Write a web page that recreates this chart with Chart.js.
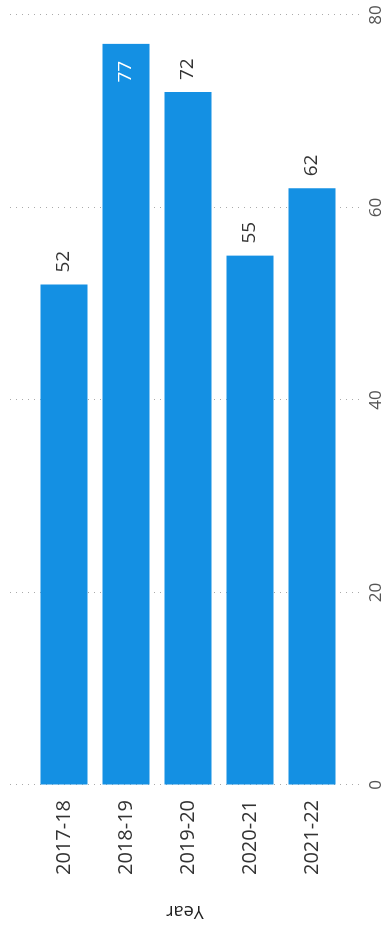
<!DOCTYPE html>
<html>
<head>
<meta charset="utf-8">
<script src="https://cdn.jsdelivr.net/npm/chart.js@4.4.1/dist/chart.umd.min.js"></script>
<style>
  html, body { margin: 0; padding: 0; background: #fff; overflow: hidden; }
  /* chart is laid out as a horizontal bar chart, then turned on its side */
  #wrap {
    position: absolute; left: 0; top: 0;
    width: 930px; height: 389px;
    transform-origin: 0 0;
    transform: translateY(930px) rotate(-90deg);
  }
</style>
</head>
<body>
<div id="wrap"><canvas id="yearChart" width="930" height="389"></canvas></div>
<script>
// dados
const years = ["2017-18", "2018-19", "2019-20", "2020-21", "2021-22"];
const counts = [52, 77, 72, 55, 62];
const valueTicks = [0, 20, 40, 60, 80];

const FONT = "'Open Sans', 'Noto Sans', sans-serif";
const BAR_COLOR = "#1490e3";

// tira o recuo que o Chart.js reserva para os rótulos das pontas
function semRecuo(s) {
    s.paddingTop = 0; s.paddingBottom = 0;
    s.paddingLeft = 0; s.paddingRight = 0;
}

// rótulos de valor na ponta da barra (dentro quando não cabe fora)
const rotulosValor = {
    id: "rotulosValor",
    afterDatasetsDraw(chart) {
        const ctx = chart.ctx, area = chart.chartArea;
        const meta = chart.getDatasetMeta(0);
        ctx.save();
        ctx.font = "19px " + FONT;
        ctx.textBaseline = "middle";
        meta.data.forEach((bar, i) => {
            const txt = String(counts[i]);
            const w = ctx.measureText(txt).width;
            if (bar.x + 12 + w <= area.right) {
                ctx.fillStyle = "#333333";
                ctx.textAlign = "left";
                ctx.fillText(txt, bar.x + 12, bar.y);
            } else {
                ctx.fillStyle = "#ffffff";
                ctx.textAlign = "right";
                ctx.fillText(txt, bar.x - 17, bar.y);
            }
        });
        ctx.restore();
    },
};

new Chart(document.getElementById("yearChart"), {
    type: "bar",
    data: {
        datasets: [{
            data: counts.map((v, i) => ({ x: v, y: i })),
            backgroundColor: BAR_COLOR,
            borderWidth: 0,
            categoryPercentage: 0.76,
            barPercentage: 1,
        }],
    },
    options: {
        indexAxis: "y",
        responsive: false,
        animation: false,
        layout: { padding: { top: 10, right: 15, left: 4, bottom: 0 } },
        plugins: { legend: { display: false }, tooltip: { enabled: false } },
        scales: {
            x: {
                type: "linear",
                min: valueTicks[0],
                max: valueTicks[valueTicks.length - 1],
                afterBuildTicks: (s) => { s.ticks = valueTicks.map((v) => ({ value: v })); },
                afterFit: (s) => { s.height = 29; semRecuo(s); },
                ticks: { color: "#555555", padding: 6, font: { family: FONT, size: 17 } },
                grid: { color: "#aaaaaa", lineWidth: 1, drawTicks: false },
                border: { display: false, dash: [1, 5] },
            },
            y: {
                type: "linear",
                offset: false,
                reverse: true,
                min: -0.871,
                max: 4.774,
                afterBuildTicks: (s) => { s.ticks = years.map((_, i) => ({ value: i })); },
                afterFit: (s) => { s.width = 141; semRecuo(s); },
                ticks: {
                    color: "#333333",
                    padding: 15,
                    font: { family: FONT, size: 20 },
                    callback: (v) => years[v],
                },
                grid: { display: false, drawTicks: false, offset: false },
                border: { display: false },
                title: {
                    display: true,
                    text: "Year",
                    color: "#222222",
                    font: { family: FONT, size: 18 },
                    padding: { top: 4, bottom: 0 },
                },
            },
        },
    },
    plugins: [rotulosValor],
});
</script>
</body>
</html>
